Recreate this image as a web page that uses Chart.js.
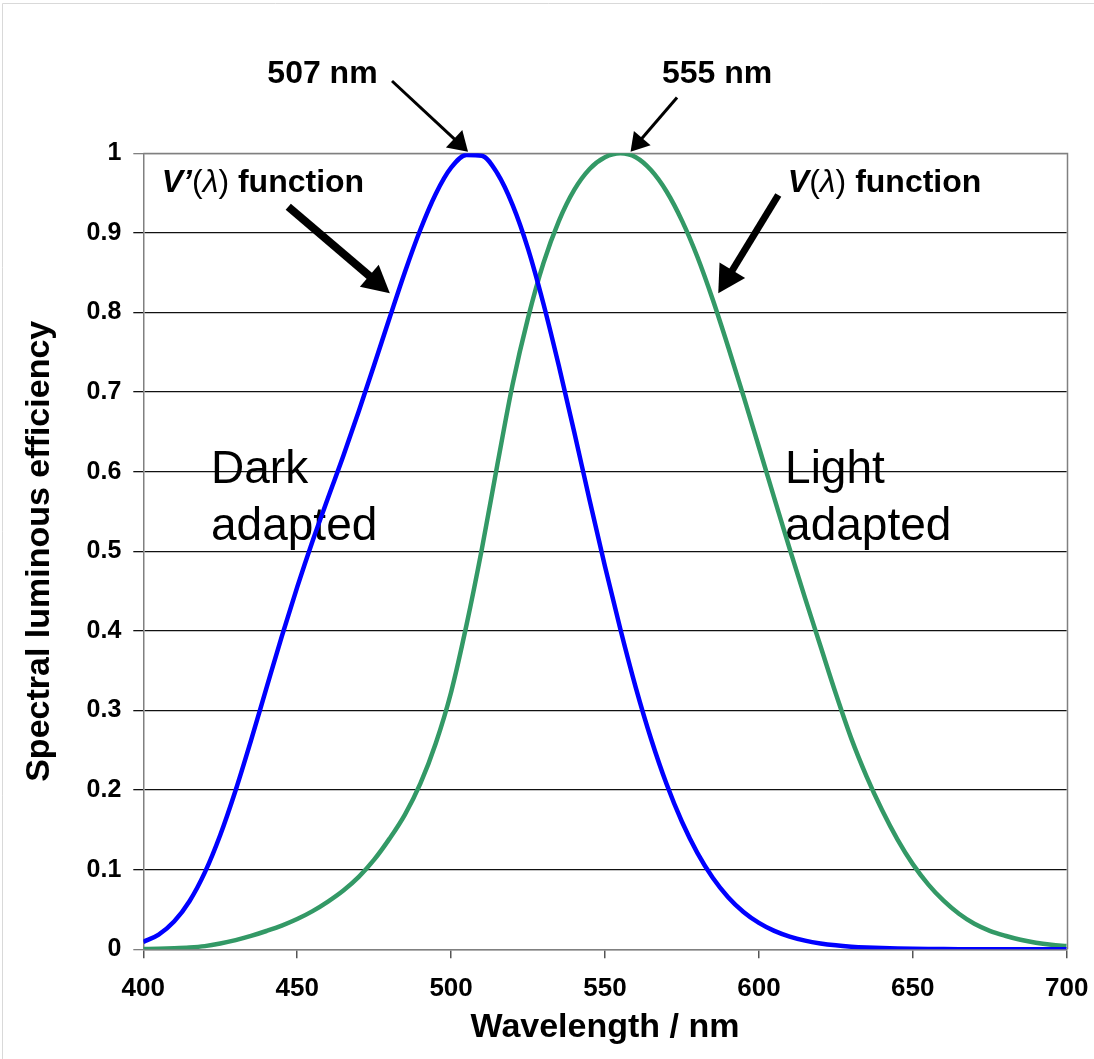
<!DOCTYPE html>
<html><head><meta charset="utf-8">
<script src="https://cdn.jsdelivr.net/npm/chart.js@4.4.1/dist/chart.umd.min.js"></script>
<style>html,body{margin:0;padding:0;background:#fff}canvas{display:block}</style>
</head><body>
<canvas id="c" width="1094" height="1059"></canvas>
<script>
// Wavelength grid (nm)
const wavelengths = [400,405,410,415,420,425,430,435,440,445,450,455,460,465,470,475,480,485,490,495,
  500,505,510,515,520,525,530,535,540,545,550,555,560,565,570,575,580,585,590,595,
  600,605,610,615,620,625,630,635,640,645,650,655,660,665,670,675,680,685,690,695,700];
// Scotopic V'(lambda) - dark adapted
const scotopicV = [0.00929,0.01852,0.03484,0.0604,0.0966,0.1436,0.1998,0.2625,0.3281,0.3931,
  0.455,0.513,0.567,0.620,0.676,0.734,0.793,0.851,0.904,0.949,
  0.982,0.998,0.997,0.975,0.935,0.880,0.811,0.733,0.650,0.564,
  0.481,0.402,0.3288,0.2639,0.2076,0.1602,0.1212,0.0899,0.0655,0.0469,
  0.03315,0.02312,0.01593,0.01088,0.00737,0.00497,0.003335,0.002235,0.001497,0.001005,
  0.000677,0.000459,0.000313,0.000215,0.000148,0.000103,0.0000715,0.0000502,0.0000353,0.000025,0.0000178];
// Photopic V(lambda) - light adapted
const photopicV = [0.000396,0.00064,0.00121,0.00218,0.004,0.0073,0.0116,0.01684,0.023,0.0298,
  0.038,0.048,0.06,0.0739,0.09098,0.1126,0.13902,0.1693,0.20802,0.2586,
  0.323,0.4073,0.503,0.6082,0.71,0.7932,0.862,0.91485,0.954,0.9803,
  0.99495,1.0,0.995,0.9786,0.952,0.9154,0.87,0.8163,0.757,0.6949,
  0.631,0.5668,0.503,0.4412,0.381,0.321,0.265,0.217,0.175,0.1382,
  0.107,0.0816,0.061,0.04458,0.032,0.0232,0.017,0.01192,0.00821,0.005723,0.004102];
const xTicks = [400,450,500,550,600,650,700];
const yTicks = [0,0.1,0.2,0.3,0.4,0.5,0.6,0.7,0.8,0.9,1];

const FONT = "'Liberation Sans', Arial, Helvetica, sans-serif";

const toPts = (ys) => wavelengths.map((w,i)=>({x:w,y:ys[i]}));

const annot = {
  id:'annot',
  beforeDatasetsDraw(chart){
    const {ctx, chartArea:a, scales:{x,y}} = chart;
    ctx.save();
    ctx.strokeStyle='#808080'; ctx.lineWidth=1.5;
    ctx.beginPath();
    ctx.moveTo(a.left, Math.round(a.top)+0.5); ctx.lineTo(Math.round(a.right)+0.5, Math.round(a.top)+0.5);
    ctx.lineTo(Math.round(a.right)+0.5, a.bottom);
    ctx.stroke();
    ctx.fillStyle='#000';
    ctx.font = "46px " + FONT;
    ctx.textAlign='left'; ctx.textBaseline='alphabetic';
    ctx.fillText('Dark', x.getPixelForValue(422.0), y.getPixelForValue(0.586));
    ctx.fillText('adapted', x.getPixelForValue(422.0), y.getPixelForValue(0.514));
    ctx.fillText('Light', x.getPixelForValue(608.5), y.getPixelForValue(0.586));
    ctx.fillText('adapted', x.getPixelForValue(608.5), y.getPixelForValue(0.514));
    ctx.restore();
  },
  afterDraw(chart){
    const {ctx, scales:{x,y}} = chart;
    const px = v=>x.getPixelForValue(v), py = v=>y.getPixelForValue(v);
    ctx.save();
    ctx.strokeStyle='#d9d9d9'; ctx.lineWidth=1;
    ctx.beginPath(); ctx.moveTo(2.5,1059); ctx.lineTo(2.5,3.5); ctx.lineTo(1094,3.5); ctx.stroke();

    ctx.fillStyle='#000';
    ctx.textBaseline='alphabetic'; ctx.textAlign='left';
    ctx.font = "bold 32px " + FONT;
    ctx.fillText('507 nm', px(440.3), py(1.088));
    ctx.fillText('555 nm', px(568.5), py(1.088));

    function fnLabel(xv, yv, prime){
      let cx = px(xv); const cy = py(yv);
      const parts = [
        ['italic bold 32px '+FONT, prime ? 'V\u2019' : 'V'],
        ['32px '+FONT, '('],
        ['italic 32px '+FONT, '\u03BB'],
        ['32px '+FONT, ')'],
        ['bold 32px '+FONT, ' function']
      ];
      for (const [f,t] of parts){ ctx.font=f; ctx.fillText(t,cx,cy); cx += ctx.measureText(t).width; }
    }
    fnLabel(406.0, 0.952, true);
    fnLabel(609.4, 0.952, false);

    function arrow(x1,y1,x2,y2,lw,hl,hw){
      const X1=px(x1),Y1=py(y1),X2=px(x2),Y2=py(y2);
      const ang=Math.atan2(Y2-Y1,X2-X1), c=Math.cos(ang), s=Math.sin(ang);
      const bx=X2-hl*c, by=Y2-hl*s;
      ctx.strokeStyle='#000'; ctx.lineWidth=lw; ctx.lineCap='butt';
      ctx.beginPath(); ctx.moveTo(X1,Y1); ctx.lineTo(bx+2*c,by+2*s); ctx.stroke();
      ctx.beginPath(); ctx.moveTo(X2,Y2); ctx.lineTo(bx+hw*s,by-hw*c); ctx.lineTo(bx-hw*s,by+hw*c); ctx.closePath(); ctx.fill();
    }
    arrow(480.8,1.0908,505.5,1.002,3,19,12);
    arrow(573.4,1.0702,558.3,1.002,3,18,11);
    arrow(447.1,0.9329,480.1,0.8241,8,27,14.5);
    arrow(606.3,0.9476,586.8,0.8241,7,27,15);
    ctx.restore();
  }
};

new Chart(document.getElementById('c'), {
  type:'line',
  data:{
    datasets:[
      {label:"V'(\u03BB)", data:toPts(scotopicV), borderColor:'#0000FF', borderWidth:4.5, pointRadius:0, cubicInterpolationMode:'monotone', fill:false},
      {label:'V(\u03BB)', data:toPts(photopicV), borderColor:'#339966', borderWidth:4.5, pointRadius:0, cubicInterpolationMode:'monotone', fill:false}
    ]
  },
  options:{
    responsive:false, animation:false, devicePixelRatio:1,
    layout:{padding:{top:153.3,right:27.3,left:0,bottom:0}},
    plugins:{legend:{display:false}, tooltip:{enabled:false}},
    scales:{
      x:{type:'linear', min:400, max:700,
        afterBuildTicks(s){ s.ticks = xTicks.map(v=>({value:v})); },
        afterFit(s){ s.height = 1059-949.3; s.paddingRight = 0; },
        ticks:{color:'#000', font:{family:FONT, size:26, weight:'bold'}, padding:15, maxRotation:0},
        grid:{drawOnChartArea:false, drawTicks:true, tickLength:9, color:'#555', lineWidth:1.5},
        border:{display:true, color:'#808080', width:1.5},
        title:{display:true, text:'Wavelength / nm', color:'#000', font:{family:FONT, size:34, weight:'bold'}, padding:{top:4,bottom:11}}
      },
      y:{type:'linear', min:0, max:1,
        afterBuildTicks(s){ s.ticks = yTicks.map(v=>({value:v})); },
        afterFit(s){ s.width = 143.3; },
        ticks:{color:'#000', font:{family:FONT, size:25, weight:'bold'}, padding:12,
          callback:(v)=>String(Math.round(v*10)/10)},
        grid:{drawTicks:true, tickLength:10, lineWidth:1.3,
          color:(c)=> (c.tick && (c.tick.value===1 || c.tick.value===0)) ? '#808080' : '#111'},
        border:{display:true, color:'#808080', width:1.5},
        title:{display:true, text:'Spectral luminous efficiency', color:'#000', font:{family:FONT, size:34, weight:'bold'}, padding:{top:19,bottom:0}}
      }
    }
  },
  plugins:[annot]
});
</script>
</body></html>
